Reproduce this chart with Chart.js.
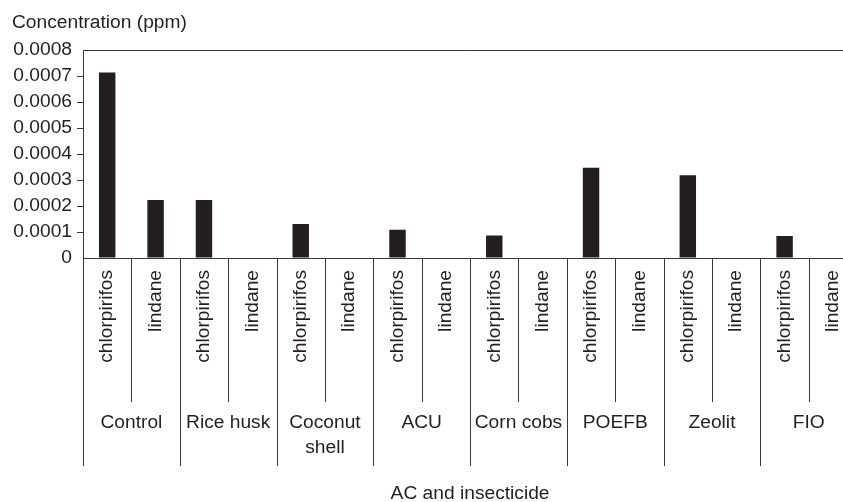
<!DOCTYPE html>
<html>
<head>
<meta charset="utf-8">
<script src="https://cdn.jsdelivr.net/npm/chart.js@4.4.1/dist/chart.umd.min.js"></script>
<style>
  html, body { margin: 0; padding: 0; background: #fff; overflow: hidden; }
  #wrap { width: 868px; height: 502px; }
</style>
</head>
<body>
<div id="wrap"><canvas id="chart" width="868" height="502"></canvas></div>
<script>
// Data
const groups = ['Control', 'Rice husk', ['Coconut', 'shell'], 'ACU', 'Corn cobs', 'POEFB', 'Zeolit', 'FIO'];
const insecticides = ['chlorpirifos', 'lindane'];
const chlorpirifos = [0.000714, 0.000223, 0.000131, 0.000109, 0.000087, 0.000347, 0.000318, 0.000085];
const lindane = [0.000223, 0, 0, 0, 0, 0, 0, 0];
const yTickLabels = ['0', '0.0001', '0.0002', '0.0003', '0.0004', '0.0005', '0.0006', '0.0007', '0.0008'];

// flatten to one bar per group/insecticide
const labels = [];
const values = [];
groups.forEach((g, i) => {
    labels.push(insecticides[0]);
    values.push(chlorpirifos[i]);
    labels.push(insecticides[1]);
    values.push(lindane[i]);
});

const FONT = "'Liberation Sans', Arial, sans-serif";
const SIZE = 19.2;
const LINE = '#3a3a3a';
const TEXT = '#231f20';

// Draws the group dividers and group names under the insecticide labels
const groupAxisPlugin = {
    id: 'groupAxis',
    afterDraw(chart) {
        const { ctx, chartArea } = chart;
        const x = chart.scales.x;
        const step = x.getPixelForValue(1) - x.getPixelForValue(0);
        const base = chartArea.bottom;
        ctx.save();
        ctx.strokeStyle = LINE;
        ctx.lineWidth = 1;
        for (let i = 0; i <= labels.length; i++) {
            const px = Math.round(x.getPixelForValue(0) - step / 2 + i * step) + 0.5;
            const len = i % 2 === 0 ? 208 : 144;
            ctx.beginPath();
            ctx.moveTo(px, base);
            ctx.lineTo(px, base + len);
            ctx.stroke();
        }
        ctx.fillStyle = TEXT;
        ctx.font = SIZE + 'px ' + FONT;
        ctx.textAlign = 'center';
        ctx.textBaseline = 'middle';
        groups.forEach((g, i) => {
            const cx = x.getPixelForValue(i * 2) + step / 2;
            const lines = Array.isArray(g) ? g : [g];
            lines.forEach((t, k) => ctx.fillText(t, cx, base + 165 + k * 25));
        });
        ctx.restore();
    }
};

new Chart(document.getElementById('chart'), {
    type: 'bar',
    data: {
        labels: labels,
        datasets: [{
            data: values,
            backgroundColor: '#231f20',
            borderWidth: 0,
            barPercentage: 0.34,
            categoryPercentage: 1.0
        }]
    },
    options: {
        responsive: false,
        animation: false,
        layout: { padding: { left: 12, right: 0, top: 0, bottom: 0 } },
        plugins: {
            legend: { display: false },
            tooltip: { enabled: false },
            title: {
                display: true,
                text: 'Concentration (ppm)',
                align: 'start',
                color: TEXT,
                font: { family: FONT, size: SIZE, weight: 'normal' },
                padding: { top: 11, bottom: 16 }
            }
        },
        scales: {
            x: {
                grid: { display: false, drawTicks: false },
                border: { display: true, color: LINE, width: 1 },
                ticks: {
                    autoSkip: false,
                    minRotation: 90,
                    maxRotation: 90,
                    padding: 12,
                    color: TEXT,
                    font: { family: FONT, size: SIZE }
                },
                title: {
                    display: true,
                    text: 'AC and insecticide',
                    color: TEXT,
                    font: { family: FONT, size: SIZE },
                    padding: { top: 0, bottom: -3 }
                },
                afterFit(scale) { scale.height = 244; }
            },
            y: {
                min: 0,
                max: 0.0008,
                border: { display: true, color: LINE, width: 1 },
                grid: {
                    color: c => (c.tick && c.tick.value >= 0.0008 - 1e-9) ? LINE : 'transparent',
                    tickColor: c => (c.tick && (c.tick.value >= 0.0008 - 1e-9 || c.tick.value === 0)) ? 'transparent' : LINE,
                    tickLength: 6
                },
                ticks: {
                    stepSize: 0.0001,
                    autoSkip: false,
                    padding: 5,
                    color: TEXT,
                    font: { family: FONT, size: SIZE },
                    callback: (v, i) => yTickLabels[i]
                },
                afterFit(scale) { scale.width = 71; }
            }
        }
    },
    plugins: [groupAxisPlugin]
});
</script>
</body>
</html>
